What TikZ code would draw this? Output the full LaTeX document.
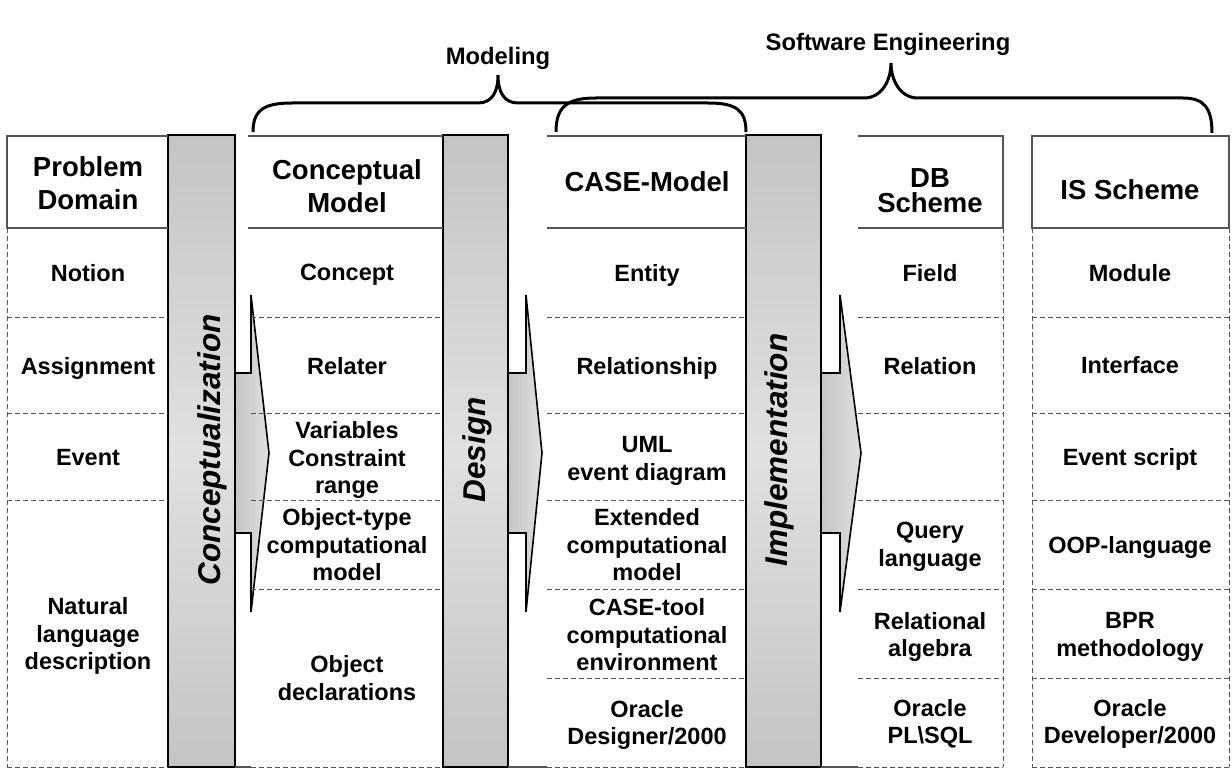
\documentclass[tikz,border=0pt]{standalone}
\usepackage{fontspec}
\setmainfont{Liberation Sans}
\usepackage{tikz}
\definecolor{bar_gray}{HTML}{C4C4C4}
\definecolor{bar_light}{HTML}{E0E0E0}
\definecolor{line_gray}{HTML}{555555}

\begin{document}
\begin{tikzpicture}[x=0.5pt, y=-0.5pt,
    celltxt/.style={font=\fontsize{11.75}{13.75}\selectfont\bfseries, align=center, inner sep=0pt},
    headtxt/.style={font=\fontsize{13.75}{16.5}\selectfont\bfseries, align=center, inner sep=0pt},
    stagetxt/.style={font=\fontsize{15.75}{18}\selectfont\bfseries\itshape, rotate=90, inner sep=0pt},
    toptxt/.style={font=\fontsize{11.9}{14}\selectfont\bfseries, inner sep=0pt},
    rowline/.style={line_gray, dash pattern=on 2.5pt off 1.5pt, line width=0.5pt},
    boxline/.style={line_gray, line width=0.6pt},
    barbox/.style={draw=black, line width=1.2pt, top color=bar_gray, bottom color=bar_gray, middle color=bar_light},
    flow/.style={draw=black, line width=0.8pt, left color=bar_gray, right color=bar_light},
    bracket/.style={black, line width=1.5pt}]
      \useasboundingbox (0,0) rectangle (1232,770);

      \draw[flow] (234,373) -- (251,373) -- (251,295) -- (269,453) -- (251,612) -- (251,533) -- (234,533) -- cycle;
      \draw[flow] (508,373) -- (526,373) -- (526,295) -- (542,453) -- (526,612) -- (526,533) -- (508,533) -- cycle;
      \draw[flow] (821,373) -- (840,373) -- (840,295) -- (861,453) -- (840,612) -- (840,533) -- (821,533) -- cycle;

      \draw[barbox] (168,135) rectangle (235,767);
      \draw[barbox] (443,135) rectangle (508,767);
      \draw[barbox] (746,135) rectangle (821,767);

      \draw[boxline] (168,136) -- (7,136) -- (7,228) -- (168,228);
      \draw[boxline] (248,136) -- (443,136);
      \draw[boxline] (248,228) -- (443,228);
      \draw[boxline] (547,136) -- (746,136);
      \draw[boxline] (547,228) -- (746,228);
      \draw[boxline] (858,136) -- (1003,136) -- (1003,228) -- (858,228);
      \draw[boxline] (1032,136) rectangle (1229,228);
      \draw[boxline] (235,767) -- (251,767);
      \draw[boxline] (508,767) -- (547,767);
      \draw[boxline] (821,767) -- (858,767);

      \draw[rowline] (7,228) -- (7,767);
      \draw[rowline] (1003,228) -- (1003,767);
      \draw[rowline] (1032,228) -- (1032,767);
      \draw[rowline] (1229,228) -- (1229,767);

      \draw[rowline] (7,318) -- (168,318);
      \draw[rowline] (7,413) -- (168,413);
      \draw[rowline] (7,500) -- (168,500);
      \draw[rowline] (7,767) -- (168,767);

      \draw[rowline] (251,318) -- (443,318);
      \draw[rowline] (251,413) -- (443,413);
      \draw[rowline] (251,500) -- (443,500);
      \draw[rowline] (251,589) -- (443,589);
      \draw[rowline] (251,767) -- (443,767);

      \draw[rowline] (547,318) -- (746,318);
      \draw[rowline] (547,413) -- (746,413);
      \draw[rowline] (547,500) -- (746,500);
      \draw[rowline] (547,589) -- (746,589);
      \draw[rowline] (547,678) -- (746,678);
      \draw[rowline] (547,767) -- (746,767);

      \draw[rowline] (858,318) -- (1003,318);
      \draw[rowline] (858,413) -- (1003,413);
      \draw[rowline] (858,500) -- (1003,500);
      \draw[rowline] (858,589) -- (1003,589);
      \draw[rowline] (858,678) -- (1003,678);
      \draw[rowline] (858,767) -- (1003,767);

      \draw[rowline] (1032,318) -- (1229,318);
      \draw[rowline] (1032,413) -- (1229,413);
      \draw[rowline] (1032,500) -- (1229,500);
      \draw[rowline] (1032,589) -- (1229,589);
      \draw[rowline] (1032,678) -- (1229,678);
      \draw[rowline] (1032,767) -- (1229,767);

      \node[stagetxt] (concept_stage) at (212,450) {Conceptualization};
      \node[stagetxt] (design_stage) at (477,450) {Design};
      \node[stagetxt] (impl_stage) at (779,450) {Implementation};

      \node[headtxt] (pd_head) at (88,183) {Problem\\Domain};
      \node[celltxt] (pd_notion) at (88,273) {Notion};
      \node[celltxt] (pd_assign) at (88,368) {Assignment};
      \node[celltxt] (pd_event) at (88,458) {Event};
      \node[celltxt] (pd_natural) at (88,636) {Natural\\language\\description};

      \node[headtxt] (cm_head) at (347,186) {Conceptual\\Model};
      \node[celltxt] (cm_concept) at (347,275) {Concept};
      \node[celltxt] (cm_relater) at (347,366) {Relater};
      \node[celltxt] (cm_vars) at (347,460) {Variables\\Constraint\\range};
      \node[celltxt] (cm_objtype) at (347,545) {Object-type\\computational\\model};
      \node[celltxt] (cm_objdecl) at (347,678) {Object\\declarations};

      \node[headtxt] (cs_head) at (647,182) {CASE-Model};
      \node[celltxt] (cs_entity) at (647,275) {Entity};
      \node[celltxt] (cs_rel) at (647,368) {Relationship};
      \node[celltxt] (cs_uml) at (647,461) {UML\\event diagram};
      \node[celltxt] (cs_ext) at (647,545) {Extended\\computational\\model};
      \node[celltxt] (cs_tool) at (647,635) {CASE-tool\\computational\\environment};
      \node[celltxt] (cs_oracle) at (647,725) {Oracle\\Designer/2000};

      \node[headtxt, font=\fontsize{13.75}{12.5}\selectfont\bfseries] (db_head) at (930,191) {DB\\Scheme};
      \node[celltxt] (db_field) at (930,273) {Field};
      \node[celltxt] (db_relation) at (930,366) {Relation};
      \node[celltxt] (db_query) at (930,547) {Query\\language};
      \node[celltxt] (db_algebra) at (930,637) {Relational\\algebra};
      \node[celltxt] (db_oracle) at (930,724) {Oracle\\PL\textbackslash SQL};

      \node[headtxt] (is_head) at (1130,190) {IS Scheme};
      \node[celltxt] (is_module) at (1130,273) {Module};
      \node[celltxt] (is_interface) at (1130,365) {Interface};
      \node[celltxt] (is_script) at (1130,459) {Event script};
      \node[celltxt] (is_oop) at (1130,547) {OOP-language};
      \node[celltxt] (is_bpr) at (1130,637) {BPR\\methodology};
      \node[celltxt] (is_oracle) at (1130,724) {Oracle\\Developer/2000};

      \draw[bracket] (253,132) .. controls (253,110) and (264,103) .. (292,103) -- (478,103)
        .. controls (492,103) and (498,92) .. (498,75) .. controls (498,92) and (504,103) .. (518,103)
        -- (708,103) .. controls (736,103) and (746,110) .. (746,132);
      \draw[bracket] (556,132) .. controls (556,106) and (568,98) .. (596,98) -- (864,98)
        .. controls (882,98) and (891,80) .. (891,63) .. controls (891,80) and (900,98) .. (918,98)
        -- (1183,98) .. controls (1204,98) and (1212,108) .. (1212,133);

      \node[toptxt] (modeling) at (498,58) {Modeling};
      \node[toptxt] (soft_eng) at (888,44) {Software Engineering};
    \end{tikzpicture}
\end{document}
